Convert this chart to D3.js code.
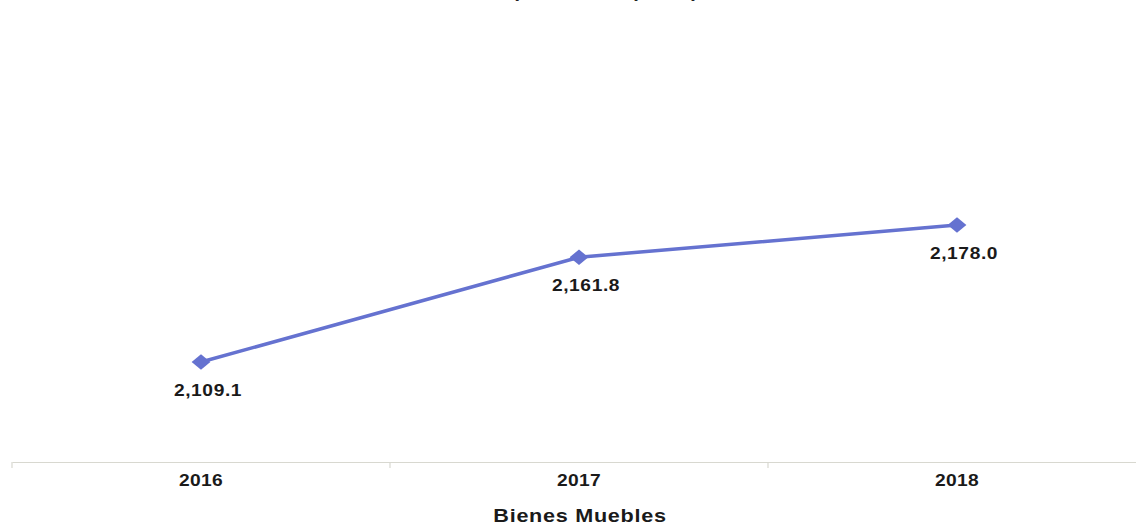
<!DOCTYPE html>
<html>
<head>
<meta charset="utf-8">
<script src="https://cdn.jsdelivr.net/npm/d3@7"></script>
<style>
  html, body { margin: 0; padding: 0; background: #ffffff; }
  svg { display: block; font-family: "Liberation Sans", Arial, sans-serif; }
</style>
</head>
<body>
<svg id="chart" width="1136" height="525"></svg>
<script>
const categories = ["2016", "2017", "2018"];
const values = [2109.1, 2161.8, 2178.0];
const valueLabels = ["2,109.1", "2,161.8", "2,178.0"];
const titleText = "(Millones de pesos)";
const axisTitle = "Bienes Muebles";

const svg = d3.select("#chart");
const axisY = 462;
const SX = 1.2;

const x = d3.scaleBand().domain(categories).range([12, 1146]).padding(0);
const y = d3.scaleLinear().domain([2050, 2200]).range([479.5, 181.3]);

// clipped title at top
svg.append("text")
  .attr("x", 605).attr("y", -3)
  .attr("text-anchor", "middle")
  .attr("font-size", 20).attr("font-weight", "bold").attr("fill", "#222")
  .text(titleText);

// axis
const axis = d3.axisBottom(x).tickSize(0).tickPadding(13);
const g = svg.append("g").attr("transform", `translate(0,${axisY})`).call(axis);
g.select(".domain").attr("stroke", "#d8d8d0").attr("stroke-width", 1.2);
g.selectAll(".tick text").attr("font-size", 16).attr("font-weight", "bold")
  .attr("fill", "#1a1a1a").attr("font-family", "Liberation Sans, Arial, sans-serif")
  .attr("letter-spacing", 0.3)
  .attr("transform", `scale(${SX},1)`);

// boundary ticks
const bounds = categories.map(c => x(c)).concat([x(categories[categories.length - 1]) + x.bandwidth()]);
svg.selectAll("line.bt").data(bounds).enter().append("line")
  .attr("class", "bt")
  .attr("x1", d => d).attr("x2", d => d)
  .attr("y1", axisY).attr("y2", axisY + 6)
  .attr("stroke", "#d8d8d0").attr("stroke-width", 1.2);

// axis title
svg.append("text")
  .attr("x", 0).attr("y", 0)
  .attr("transform", `translate(580,522) scale(${SX},1)`)
  .attr("text-anchor", "middle")
  .attr("font-size", 18).attr("font-weight", "bold").attr("fill", "#1a1a1a")
  .attr("letter-spacing", 0.6)
  .text(axisTitle);

const pts = categories.map((c, i) => ({ c, v: values[i], l: valueLabels[i] }));
const cx = d => x(d.c) + x.bandwidth() / 2;

const line = d3.line().x(cx).y(d => y(d.v));
svg.append("path").datum(pts)
  .attr("d", line)
  .attr("fill", "none").attr("stroke", "#6572d0").attr("stroke-width", 3.5);

svg.selectAll("path.mk").data(pts).enter().append("path")
  .attr("class", "mk")
  .attr("d", d3.symbol().type(d3.symbolDiamond2).size(170))
  .attr("transform", d => `translate(${cx(d)},${y(d.v)}) scale(1.15,0.95)`)
  .attr("fill", "#6572d0");

svg.selectAll("text.vl").data(pts).enter().append("text")
  .attr("class", "vl")
  .attr("x", 0).attr("y", 0)
  .attr("transform", d => `translate(${cx(d) + 7},${y(d.v) + 34}) scale(${SX},1)`)
  .attr("text-anchor", "middle")
  .attr("font-size", 16).attr("font-weight", "bold").attr("fill", "#1a1a1a")
  .attr("letter-spacing", 0.5)
  .text(d => d.l);
</script>
</body>
</html>
